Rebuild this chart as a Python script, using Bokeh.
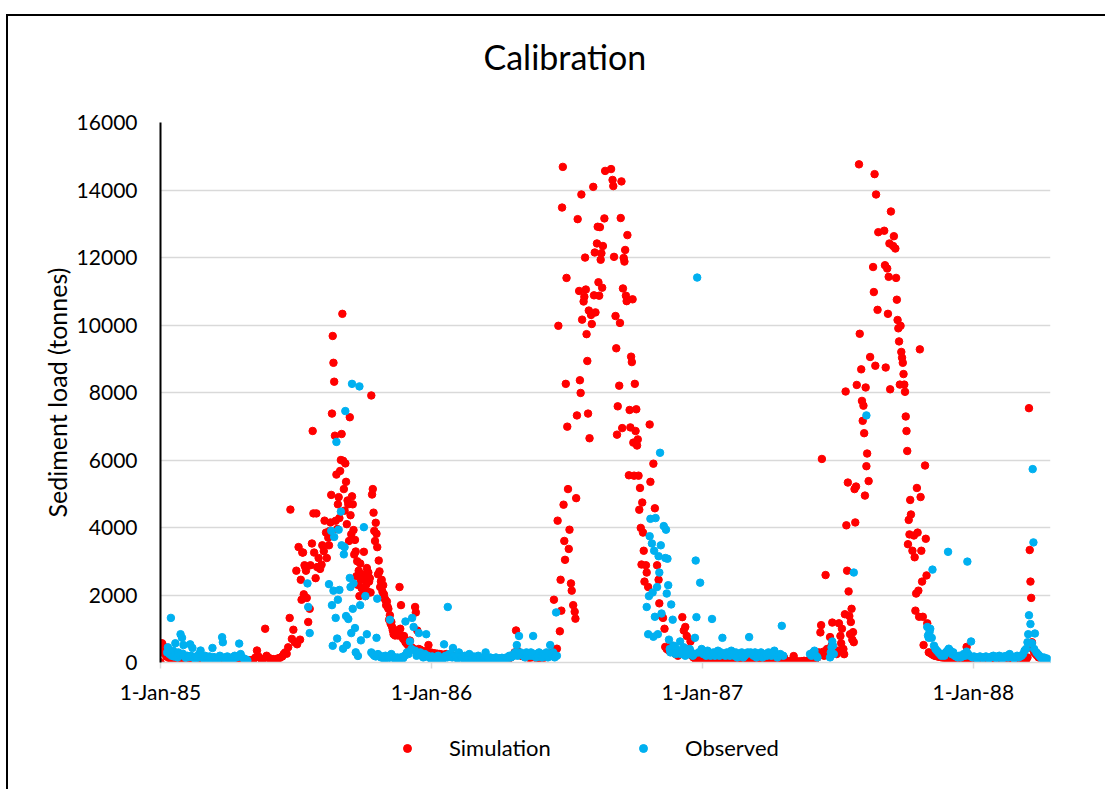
from datetime import datetime, timedelta, timezone
from bokeh.plotting import figure
from bokeh.layouts import column
from bokeh.models import (Range1d, FixedTicker, CustomJSTickFormatter, Legend,
                          LegendItem, ColumnDataSource, Title)
from bokeh.embed import file_html
from bokeh.resources import INLINE

START = datetime(1985, 1, 1)
AXIS_END_DAY = 1199

title_text = "Calibration"
y_label = "Sediment load (tonnes)"
y_ticks = [0, 2000, 4000, 6000, 8000, 10000, 12000, 14000, 16000]
year_ticks = ["1985-01-01", "1986-01-01", "1987-01-01", "1988-01-01"]
series_names = ["Simulation", "Observed"]
series_colors = ["#FF0000", "#00B0F0"]

# ---- Simulation: (day since 1-Jan-85, sediment load in tonnes) ----
sim_dry_1985 = [(0,10),(1,460),(2,570),(3,520),(4,380),(6,250),(8,180),(11,140),(14,120),(17,110),
    (20,130),(23,100),(26,95),(29,110),(32,90),(35,85),(38,100),(41,80),(44,90),(47,75),(50,85),
    (53,70),(56,80),(59,65),(62,75),(65,70),(68,60),(71,70),(74,65),(77,60),(80,75),(83,60),(86,55),
    (89,70),(92,60),(95,50),(98,65),(101,55),(104,60),(107,50),(110,55),(113,60),(116,50),(119,70),
    (122,60),(125,90),(128,150),(130,355),(132,180),(135,120),(138,100),(141,1000),(143,200),
    (146,130),(149,110),(152,100),(155,90),(158,120),(161,140),(164,180),(166,250),(168,300),
    (170,260),(172,450)]
sim_wet_1985 = [(174,1320),(175,4530),(177,700),(179,970),(181,600),(183,2720),(184,540),(186,3420),
    (188,677),(189,2451),(190,1860),(191,3260),(192,3257),(193,2020),(194,2881),(195,2830),(196,2720),
    (197,1914),(199,1200),(201,1591),(202,2881),(204,3526),(205,6860),(206,4418),(207,3257),(209,2500),
    (210,4418),(211,2827),(213,3096),(215,2774),(217,2900),(218,3472),(220,3300),(221,4203),(223,3849),
    (224,3096),(226,3700),(227,3472),(228,3900),(229,4150),(230,4966),(231,7375),(232,9675),(233,8880),
    (234,8320),(235,6720),(236,4200),(237,5568),(238,3956),(239,4687),(240,4900),(241,4279),(242,5676),
    (243,6000),(244,6770),(245,10331),(246,5977),(247,5138),(248,4500),(249,5900),(250,5353),(251,4100),
    (252,4800),(253,4687),(254,3601),(255,7267),(256,4364),(257,3800),(258,4923),(259,4687),(260,3924),
    (261,3200),(262,3633),(263,3289),(264,2558),(265,3000),(266,2300),(267,2720),(268,1967),(269,2935),
    (270,2451),(271,2200),(272,2612),(273,2000),(274,3279),(275,2500),(276,1967),(277,2300),(278,2800),
    (279,2100),(280,2666),(281,2397),(282,2500),(283,2075),(284,7912),(285,4977),(286,5138),(287,4440),
    (288,3900),(289,3600),(290,4139),(291,3816),(292,3418),(293,2612),(294,3021),(295,2700),(296,2236),
    (297,2400),(298,2451),(299,2100),(300,2290),(301,2021),(302,1900),(303,1850),(304,1700),(305,1806),
    (306,1650),(307,1591),(308,1268),(309,1400),(310,1150),(311,1200),(312,1053),(313,950),(314,838),
    (315,900),(316,800),(317,850),(318,950),(319,838),(320,800),(321,900),(322,2236),(323,1000),
    (324,1700),(325,800),(326,750),(327,700),(328,785),(329,677)]
sim_dry_1986 = [(330,600),(332,550),(334,500),(336,650),(338,450),(340,420),(343,1645),(344,1484),
    (346,946),(348,400),(350,380),(352,350),(355,330),(358,320),(361,516),(364,300),(367,280),(370,270),
    (373,260),(376,250),(379,240),(382,230),(385,250),(388,220),(391,210),(394,200),(397,190),(400,200),
    (403,180),(406,170),(409,160),(412,170),(415,150),(418,160),(421,140),(424,150),(427,130),(430,140),
    (433,120),(436,130),(439,120),(442,110),(445,120),(448,100),(451,110),(454,100),(457,120),(460,110),
    (463,100),(466,120),(469,110),(472,150),(475,200),(477,300),(479,950),(481,350),(483,250),(486,200),
    (489,180),(492,160),(495,150),(498,140),(501,160),(504,150),(507,140),(510,130),(513,150),(516,140),
    (519,160),(522,200),(525,250),(528,300)]
sim_wet_1986 = [(530,1860),(534,409),(535,4203),(536,9976),(538,925),(539,2451),(540,1537),(541,13480),
    (542,14685),(543,4676),(544,3601),(545,3042),(546,8256),(547,11395),(548,6988),(549,5138),(550,3365),
    (551,3935),(553,2344),(554,2129),(556,1700),(558,1505),(559,1300),(560,4870),(561,7321),(562,13137),
    (564,11008),(565,8363),(566,7987),(567,13867),(568,10159),(570,10696),(571,10836),(572,11997),
    (573,11051),(574,9729),(575,8934),(576,7375),(577,10428),(578,6644),(580,10298),(581,10030),
    (583,14093),(584,10879),(585,12148),(586,10374),(588,12416),(589,12911),(590,11266),(591,10868),
    (592,12900),(593,11933),(594,12126),(595,11105),(596,12341),(598,13158),(599,14566),(607,14620),
    (609,14298),(610,14115),(611,12019),(613,10266),(614,9310),(615,6751),(616,7590),(618,8202),
    (619,10062),(620,13169),(621,14255),(622,6945),(623,11083),(624,11986),(625,11879),(626,12223),
    (627,10868),(628,10707),(629,12663),(631,5547),(632,7482),(633,6966),(634,9062),(635,8901),
    (636,10761),(637,6515),(638,5536),(639,8256),(640,6859),(641,7503),(642,6429),(643,6611),(644,5536),
    (645,4526),(646,5171),(647,3988),(648,2903),(649,4741),(650,3849),(651,3311),(652,2397),(654,2881),
    (655,2666),(657,2236),(659,7052),(660,5353),(664,5891),(666,4569),(669,2881),(671,2451),(672,1752),
    (675,1376),(677,1322),(679,1000),(680,462),(682,400),(685,350),(688,500),(691,300),(694,250),
    (697,200),(700,300),(703,1344),(705,946),(707,1053),(709,785),(711,400),(714,624),(716,200),(718,150)]
sim_dry_1987 = [(720,120),(723,100),(726,90),(729,80),(732,70),(735,75),(738,60),(741,65),(744,55),
    (747,60),(750,50),(753,55),(756,45),(759,50),(762,40),(765,45),(768,40),(771,35),(774,40),(777,30),
    (780,35),(783,30),(786,40),(789,30),(792,35),(795,30),(798,25),(801,30),(804,25),(807,30),(810,25),
    (813,30),(816,25),(819,30),(822,25),(825,30),(828,25),(831,40),(834,30),(837,35),(840,150),(843,30),
    (846,35),(849,40),(852,30),(853,190),(855,40),(858,35),(861,30),(864,40),(867,50),(870,45),(873,60),
    (876,50),(879,70),(882,80),(885,150),(887,300)]
sim_wet_1987 = [(889,892),(890,1107),(891,6031),(893,322),(894,200),(896,2591),(898,400),(900,300),
    (902,753),(904,500),(905,1183),(907,400),(909,300),(911,250),(913,350),(914,1161),(916,785),(917,570),
    (918,1000),(920,400),(921,247),(922,1430),(923,8030),(924,4064),(925,2720),(926,5332),(927,2107),
    (928,1376),(929,838),(930,1200),(931,1591),(932,677),(933,900),(934,602),(935,5138),(936,4150),
    (937,5214),(938,8224),(941,14760),(942,9740),(944,8686),(945,7751),(946,7160),(947,7611),(948,6794),
    (949,4945),(950,8149),(951,5816),(952,6192),(954,5375),(956,9052),(960,11718),(961,10976),(962,14470),
    (963,8793),(964,13867),(966,10449),(967,12750),(975,12793),(976,11771),(977,8740),(979,11675),
    (980,10331),(981,11427),(982,12416),(983,8095),(984,13363),(987,12341),(988,12631),(990,12266),
    (991,11395),(992,10750),(993,10148),(994,9901),(995,9514),(996,8234),(997,9976),(998,9202),(999,9030),
    (1000,8880),(1001,8546),(1002,8234),(1003,8020),(1004,7289),(1005,6859),(1006,6267),(1007,3505),
    (1008,4225),(1009,3795),(1010,4816),(1011,4386),(1013,3311),(1015,3763),(1016,3118),(1017,1537),
    (1018,2043),(1019,5171),(1020,3849),(1021,2129),(1022,1355),(1023,9278),(1024,4902),(1025,3311),
    (1026,2397),(1027,1355),(1028,516),(1030,5837),(1031,3666),(1032,2580),(1033,1161),(1035,301)]
sim_dry_1988 = [(1037,280),(1039,250),(1041,220),(1043,200),(1045,190),(1047,180),(1049,170),(1051,160),
    (1053,150),(1055,145),(1057,140),(1059,130),(1061,125),(1063,120),(1065,115),(1067,110),(1069,105),
    (1071,100),(1073,100),(1075,95),(1078,90),(1081,90),(1084,85),(1086,462),(1088,80),(1091,80),
    (1094,75),(1097,75),(1100,70),(1103,70),(1106,65),(1109,65),(1112,60),(1115,60),(1118,60),(1121,55),
    (1124,55),(1127,55),(1130,50),(1133,50),(1136,50),(1139,50),(1142,45),(1145,45),(1148,45),(1151,45),
    (1154,40),(1157,40),(1160,45),(1163,50),(1166,80),(1168,150),(1170,7536),(1171,3333),(1172,2397),
    (1173,1914),(1174,600),(1175,400),(1177,300),(1179,250),(1181,200),(1183,150)]

# ---- Observed: (day since 1-Jan-85, sediment load in tonnes) ----
obs_1985_a = [(9,300),(10,450),(12,250),(14,1322),(15,200),(17,350),(18,180),(20,570),(21,250),(23,150),
    (24,300),(26,200),(27,838),(29,730),(30,260),(31,516),(33,180),(34,140),(36,200),(38,160),(40,538),
    (41,200),(43,430),(44,150),(46,120),(48,180),(50,140),(52,250),(54,355),(56,150),(58,120),(60,200),
    (62,110),(64,140),(66,180),(68,120),(70,430),(72,160),(74,120),(76,100),(78,150),(80,200),(82,130),
    (83,750),(84,600),(86,150),(88,120),(90,180),(92,130),(94,110),(96,150),(98,120),(100,200),(102,150),
    (104,180),(106,560),(108,250),(110,150),(112,120),(114,100),(116,80),(117,60)]
obs_1985_b = [(198,2344),(199,1645),(201,871),(227,2322),(230,3902),(231,1700),(232,495),(233,2129),
    (234,3720),(236,1322),(237,6536),(238,710),(239,1860),(240,3935),(241,2150),(243,4472),(244,3472),
    (246,409),(247,3204),(248,3418),(249,7450),(250,1376),(251,516),(253,1290),(255,2505),(256,2236),
    (257,871),(258,8256),(259,1591),(260,2344),(262,1021),(263,301),(266,194),(268,8181),(269,1700),
    (270,656),(274,4010),(276,1967),(278,838),(284,300),(286,250),(288,200),(290,180),(291,731),
    (292,1892),(293,250),(295,200),(297,150),(299,180),(301,120),(303,200),(305,150),(307,130),(309,1268),
    (311,250),(313,180),(315,120),(317,100),(319,150),(321,130),(323,110),(325,160),(327,130),(329,200),
    (330,1215),(332,300),(334,250),(336,624),(338,400),(339,1322),(341,1053),(343,350),(345,200),(347,250),
    (348,871),(350,300),(352,200),(354,150),(356,250),(358,838),(360,200),(362,150),(364,120),(366,180),
    (368,150),(370,100),(372,130),(374,200),(376,150),(378,120),(380,100),(382,538),(384,200),(386,150),
    (387,1645),(389,250),(391,180),(393,150),(394,430),(396,200),(398,150),(400,120),(402,300),(404,180)]
obs_1986_a = [(406,150),(408,120),(410,200),(412,100),(414,150),(416,250),(418,120),(420,100),(422,180),
    (424,130),(426,110),(428,200),(430,150),(432,120),(434,100),(436,140),(438,300),(440,120),(442,100),
    (444,150),(446,130),(448,100),(450,120),(452,150),(454,100),(456,90),(458,120),(460,140),(462,100),
    (464,110),(466,150),(468,130),(470,200),(472,150),(474,180),(476,250),(478,300),(480,516),(481,200),
    (483,785),(485,300),(487,250),(489,200),(491,150),(493,300),(495,250),(497,200),(499,300),(501,200),
    (502,785),(504,250),(506,150),(508,200),(510,300),(512,200),(514,150),(516,250),(518,200),(520,300),
    (522,150),(524,250),(525,516),(527,200),(529,300),(531,150),(533,1484),(534,200)]
obs_1986_b = [(655,1645),(657,838),(658,1967),(659,3741),(660,4257),(662,3526),(663,2075),(664,763),
    (665,3311),(666,1355),(667,4279),(669,2236),(670,838),(671,3150),(672,2666),(673,6214),(674,3472),
    (675,1451),(678,4042),(680,3096),(681,3935),(682,2043),(683,3075),(684,2290),(685,677),(686,400),
    (687,300),(688,1720),(689,350),(690,1268),(691,500),(692,300),(693,450),(694,250),(695,400),(696,300),
    (698,350),(700,624),(701,250),(703,300),(705,450),(707,200),(709,350),(711,250),(713,400),(715,300),
    (717,200),(719,250),(720,731),(721,3021),(722,1344),(723,11406),(725,300),(727,2365),(729,400),
    (731,250),(733,300),(735,200),(737,350),(739,250),(741,200),(743,1290),(745,300),(747,200),(749,250),
    (751,350),(753,200),(755,300),(757,731),(759,250),(761,200),(763,300),(765,250),(767,200),(769,350),
    (771,250),(773,200),(775,300),(777,150),(779,250),(781,200),(783,300),(785,150),(787,200),(789,250),
    (791,300),(793,753),(795,300),(797,250),(799,200),(801,300),(803,150),(805,250),(807,200),(809,300),
    (811,150),(813,200),(815,250),(817,200),(819,300),(821,250),(823,200),(825,300),(827,350),(829,200),
    (831,150),(833,200),(835,250),(837,1086),(839,200)]
obs_1987 = [(875,250),(877,200),(879,300),(881,350),(883,200),(885,150),(902,150),(903,300),(904,450),
    (905,620),(906,500),(907,250),(934,2666),(951,7321)]
obs_1988 = [(1033,1053),(1034,800),(1035,731),(1036,900),(1037,1000),(1039,731),(1040,2752),(1042,500),
    (1044,400),(1046,350),(1048,300),(1050,250),(1052,200),(1054,250),(1056,200),(1058,300),(1060,350),
    (1061,3279),(1062,409),(1064,350),(1066,250),(1068,301),(1070,200),(1072,180),(1074,150),(1076,200),
    (1078,150),(1080,180),(1082,250),(1084,200),(1086,322),(1087,2989),(1088,250),(1090,200),(1092,624),
    (1094,150),(1096,180),(1098,150),(1100,120),(1102,150),(1104,180),(1106,150),(1108,130),(1110,150),
    (1112,180),(1114,150),(1116,120),(1118,150),(1120,180),(1122,200),(1124,150),(1126,130),(1128,180),
    (1130,200),(1132,150),(1134,120),(1136,180),(1138,150),(1140,200),(1142,150),(1144,250),(1146,180),
    (1148,150),(1150,120),(1152,150),(1154,200),(1156,150),(1158,180),(1160,200),(1162,250),(1164,350),
    (1166,400),(1168,600),(1169,838),(1170,1400),(1172,1140),(1174,570),(1175,5730),(1176,3558),(1177,400),
    (1178,860),(1180,300),(1182,250),(1184,200),(1186,150),(1188,120),(1190,150),(1192,100),(1194,120),
    (1196,80)]

sim_pairs = sim_dry_1985 + sim_wet_1985 + sim_dry_1986 + sim_wet_1986 + sim_dry_1987 + sim_wet_1987 + sim_dry_1988
obs_pairs = obs_1985_a + obs_1985_b + obs_1986_a + obs_1986_b + obs_1987 + obs_1988

sim_src = ColumnDataSource(dict(date=[START + timedelta(days=d) for d, _ in sim_pairs],
                                load=[v for _, v in sim_pairs]))
obs_src = ColumnDataSource(dict(date=[START + timedelta(days=d) for d, _ in obs_pairs],
                                load=[v for _, v in obs_pairs]))
sources = [sim_src, obs_src]

FONT = "Lato"
W = 1097

p = figure(width=W, height=696, output_backend="svg", toolbar_location=None,
           x_axis_type="datetime",
           x_range=Range1d(START, START + timedelta(days=AXIS_END_DAY)),
           y_range=Range1d(0, 16000),
           min_border_left=152, min_border_right=55, min_border_top=106, min_border_bottom=50,
           background_fill_color="white", border_fill_color="white")
p.outline_line_color = None

# spacer between the title and the plot area (sits nearest the frame)
p.add_layout(Title(text=" ", text_font_size="1px", standoff=41), "above")

p.title.text = title_text
p.title.text_font = FONT
p.title.text_font_size = "34px"
p.title.text_font_style = "normal"
p.title.text_color = "black"
p.title.align = "left"
p.title.offset = 323
p.title.standoff = 4

for src, color in zip(sources, series_colors):
    p.scatter("date", "load", source=src, size=7.5, marker="circle",
              fill_color=color, line_color=color)

# y axis
p.yaxis.ticker = FixedTicker(ticks=y_ticks)
p.yaxis.axis_line_color = "black"
p.yaxis.axis_line_width = 2
p.yaxis.major_tick_line_color = None
p.yaxis.minor_tick_line_color = None
p.yaxis.major_label_text_font = FONT
p.yaxis.major_label_text_font_size = "21px"
p.yaxis.major_label_text_color = "black"
p.yaxis.major_label_standoff = 17
p.yaxis.axis_label = y_label
p.yaxis.axis_label_text_font = FONT
p.yaxis.axis_label_text_font_size = "25px"
p.yaxis.axis_label_text_font_style = "normal"
p.yaxis.axis_label_text_color = "black"
p.yaxis.axis_label_standoff = 2

# x axis
tick_ms = [(datetime.strptime(t, "%Y-%m-%d").replace(tzinfo=timezone.utc).timestamp() * 1000)
           for t in year_ticks]
p.xaxis.ticker = FixedTicker(ticks=tick_ms)
p.xaxis.formatter = CustomJSTickFormatter(code="""
const months = ["Jan","Feb","Mar","Apr","May","Jun","Jul","Aug","Sep","Oct","Nov","Dec"];
const d = new Date(tick);
return d.getUTCDate() + "-" + months[d.getUTCMonth()] + "-" + String(d.getUTCFullYear()).slice(2);
""")
p.xaxis.axis_line_color = "#D9D9D9"
p.xaxis.axis_line_width = 1.5
p.xaxis.major_tick_line_color = "#D9D9D9"
p.xaxis.major_tick_line_width = 1.5
p.xaxis.major_tick_in = 0
p.xaxis.major_tick_out = 6
p.xaxis.minor_tick_line_color = None
p.xaxis.major_label_text_font = FONT
p.xaxis.major_label_text_font_size = "21px"
p.xaxis.major_label_text_color = "black"
p.xaxis.major_label_standoff = 10

p.xgrid.grid_line_color = None
p.ygrid.ticker = FixedTicker(ticks=y_ticks)
p.ygrid.grid_line_color = "#D9D9D9"
p.ygrid.grid_line_width = 1.5

# ---- legend strip below the chart (its own plot; the series lie outside its view) ----
leg = figure(width=W, height=77, output_backend="svg", toolbar_location=None,
             x_axis_type="datetime",
             x_range=Range1d(START, START + timedelta(days=AXIS_END_DAY)),
             y_range=Range1d(-2, -1),
             min_border=0, x_axis_location=None, y_axis_location=None,
             background_fill_color="white", border_fill_color="white")
leg.outline_line_color = None
leg.xgrid.visible = False
leg.ygrid.visible = False
items = []
for name, src, color in zip(series_names, sources, series_colors):
    r = leg.scatter("date", "load", source=src, size=7.5, marker="circle",
                    fill_color=color, line_color=color)
    items.append(LegendItem(label=name, renderers=[r]))
legend = Legend(items=items, orientation="horizontal", location=(237, 28),
                border_line_color=None, background_fill_alpha=0,
                label_text_font=FONT, label_text_font_size="22px", label_text_color="black",
                glyph_width=20, glyph_height=20, label_standoff=32, label_width=103,
                spacing=81, padding=0, margin=0)
leg.add_layout(legend)

layout = column(p, leg, spacing=0,
                styles={"margin-left": "6px", "margin-top": "14px",
                        "border-left": "2px solid black", "border-top": "2px solid black"})

open("out.html", "w").write(file_html(layout, INLINE))
